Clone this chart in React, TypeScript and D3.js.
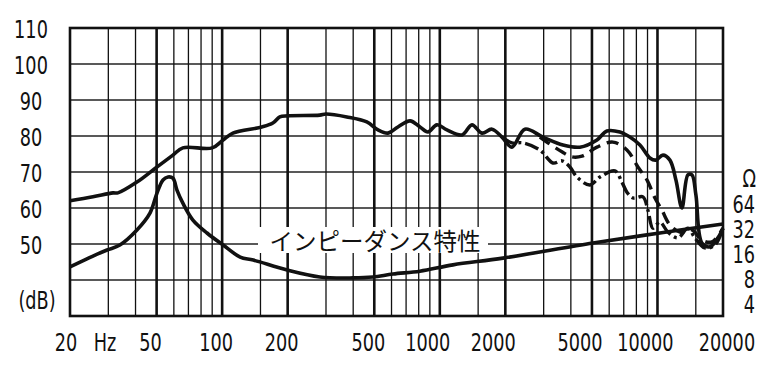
import * as d3 from 'd3';

// frequency grid (Hz)
const gridFreqs = [30, 40, 50, 60, 70, 80, 90, 100, 150, 200, 300, 400, 500, 600, 700, 800, 900, 1000, 1500, 2000, 3000, 4000, 5000, 6000, 7000, 8000, 9000, 10000, 15000];
const boldFreqs = [50, 100, 200, 500, 1000, 2000, 5000, 10000];
const freqLabels = [20, 50, 100, 200, 500, 1000, 2000, 5000, 10000, 20000];
const dbTicks = [110, 100, 90, 80, 70, 60, 50];
const dbGrid = [40, 50, 60, 70, 80, 90, 100];
const ohmTicks = [64, 32, 16, 8, 4];

// [Hz, dB]
const responseMain: [number, number][] = [
  [20, 62.0], [25.5, 63.1], [31.5, 64.2], [33.2, 64.2], [40.6, 67.2], [50.2, 71.4], [59.4, 74.7],
  [66, 76.7], [90, 76.7], [101, 78.9], [112, 80.8], [152, 82.5], [171, 83.6], [184, 85.3],
  [200, 85.6], [281, 85.8], [300, 86.1], [374, 85.3], [462, 83.9], [520, 81.7], [578, 80.8],
  [642, 82.5], [730, 84.2], [811, 82.5], [882, 81.1], [970, 83.1], [1078, 81.7], [1265, 80.3],
  [1405, 83.1], [1562, 80.8], [1736, 81.9], [1930, 79.7], [2144, 76.9], [2460, 81.9],
  [2976, 79.7], [3679, 77.5], [4403, 76.9], [5272, 78.9], [5858, 81.4], [6721, 81.1],
  [7470, 79.7], [8306, 77.5], [9232, 73.9], [9837, 73.3], [10594, 74.7], [11408, 73.3],
  [12152, 67.8], [12950, 60.0], [13800, 69.2], [14396, 69.2], [15018, 63.6], [16000, 50.3],
  [17414, 49.2], [18950, 51.7], [20000, 54.4],
];

const responseDashed: [number, number][] = [
  [2884, 79.7], [3138, 78.1], [3640, 75.6], [4046, 74.2], [4498, 74.4], [5272, 76.9],
  [6242, 78.3], [7238, 76.1], [8132, 71.4], [8944, 67.8], [9734, 62.8], [10480, 59.4],
  [11408, 55.3], [12679, 53.3], [14396, 53.9], [16000, 51.1], [17783, 50.6], [20000, 54.4],
];

const responseDashDot: [number, number][] = [
  [1930, 79.7], [2144, 78.1], [2408, 78.1], [2884, 76.1], [3309, 72.5], [3640, 73.1],
  [3961, 71.4], [4266, 68.6], [4894, 66.4], [5441, 68.6], [6375, 70.3], [6864, 67.2],
  [7238, 64.4], [7714, 62.8], [8575, 63.1], [9038, 59.4], [9528, 54.4], [10258, 56.1],
  [11170, 53.3], [12415, 51.7], [13800, 54.4], [14858, 51.7], [16512, 48.9], [18358, 49.7],
  [20000, 54.4],
];

// [Hz, ohm]
const impedance: [number, number][] = [
  [20, 10.6], [25.5, 14.3], [29.6, 16.9], [33.9, 19.4], [40.6, 29.4], [46.6, 47], [50.2, 82],
  [53.5, 118], [56.4, 128], [59.4, 124], [62, 89], [66, 62], [73.4, 38.8], [85.2, 27.1],
  [101, 19.4], [121, 13.9], [139, 12.8], [199, 9.7], [281, 8.0], [399, 7.8], [493, 8.0],
  [609, 8.7], [810, 9.4], [1149, 11.2], [1950, 13.5], [5052, 20.5], [10258, 27.1], [20000, 34.8],
];

const W = 775;
const H = 365;
const left = 70;
const right = 723;
const top = 28;
const bottom = 316;

const narrow = "'Liberation Sans Narrow', 'DejaVu Sans Condensed', 'Liberation Sans', sans-serif";

export default function App() {
  const x = d3.scaleLog().domain([20, 20000]).range([left, right]);
  const y = d3.scaleLinear().domain([30, 110]).range([bottom, top]);
  const z = d3.scaleLog().base(2).domain([4, 64]).range([302, 202]);

  const splLine = d3.line<[number, number]>()
    .x(d => x(d[0]))
    .y(d => y(d[1]))
    .curve(d3.curveCatmullRom.alpha(0.5));
  const zLine = d3.line<[number, number]>()
    .x(d => x(d[0]))
    .y(d => z(d[1]))
    .curve(d3.curveCatmullRom.alpha(0.5));

  const label = (tx: number, ty: number, text: string, anchor = 'middle', key?: string) => (
    <text
      key={key ?? text + tx}
      transform={`translate(${tx},${ty}) scale(0.82,1)`}
      textAnchor={anchor}
      fontFamily={narrow}
      fontSize={24}
      fill="#111"
    >
      {text}
    </text>
  );

  const labelDx = (f: number, i: number) => {
    if (i === 0) return -4;
    if (i === freqLabels.length - 1) return 4;
    return String(f).length > 3 ? -12 : -6;
  };

  return (
    <svg width={W} height={H} style={{ position: 'absolute', left: 0, top: 0, background: '#fff' }}>
      <rect width={W} height={H} fill="#fff" />

      {/* grid */}
      {dbGrid.map(v => (
        <line key={'h' + v} x1={left} x2={right} y1={y(v)} y2={y(v)} stroke="#222" strokeWidth={1.3} />
      ))}
      {gridFreqs.map(f => (
        <line
          key={'v' + f}
          x1={x(f)} x2={x(f)} y1={top} y2={bottom}
          stroke="#111"
          strokeWidth={boldFreqs.includes(f) ? 2.6 : 1.3}
        />
      ))}
      <rect x={left} y={top} width={right - left} height={bottom - top} fill="none" stroke="#111" strokeWidth={2.6} />

      {/* impedance caption */}
      <rect x={258} y={227} width={230} height={26} fill="#fff" />
      <text x={375} y={250} textAnchor="middle" fontFamily="'Noto Sans CJK JP', sans-serif" fontSize={23.5} fill="#111">
        インピーダンス特性
      </text>

      {/* curves */}
      <path d={zLine(impedance) ?? ''} fill="none" stroke="#111" strokeWidth={3.6} strokeLinejoin="round" />
      <path d={splLine(responseDashDot) ?? ''} fill="none" stroke="#111" strokeWidth={3.4} strokeDasharray="14,4,3,4" strokeLinejoin="round" />
      <path d={splLine(responseDashed) ?? ''} fill="none" stroke="#111" strokeWidth={3.4} strokeDasharray="12,7" strokeLinejoin="round" />
      <path d={splLine(responseMain) ?? ''} fill="none" stroke="#111" strokeWidth={3.6} strokeLinejoin="round" />

      {/* left axis */}
      {dbTicks.map(v => label(31, y(v) + 9.5, String(v)))}
      {label(37, 309, '(dB)')}

      {/* right axis */}
      {label(756, z(128) + 10, 'Ω', 'end')}
      {ohmTicks.map(v => label(755, z(v) + 10.5, String(v), 'end'))}

      {/* bottom axis */}
      {freqLabels.map((f, i) => label(x(f) + labelDx(f, i), 351, String(f)))}
      {label(x(20) + 35, 351, 'Hz')}
    </svg>
  );
}
